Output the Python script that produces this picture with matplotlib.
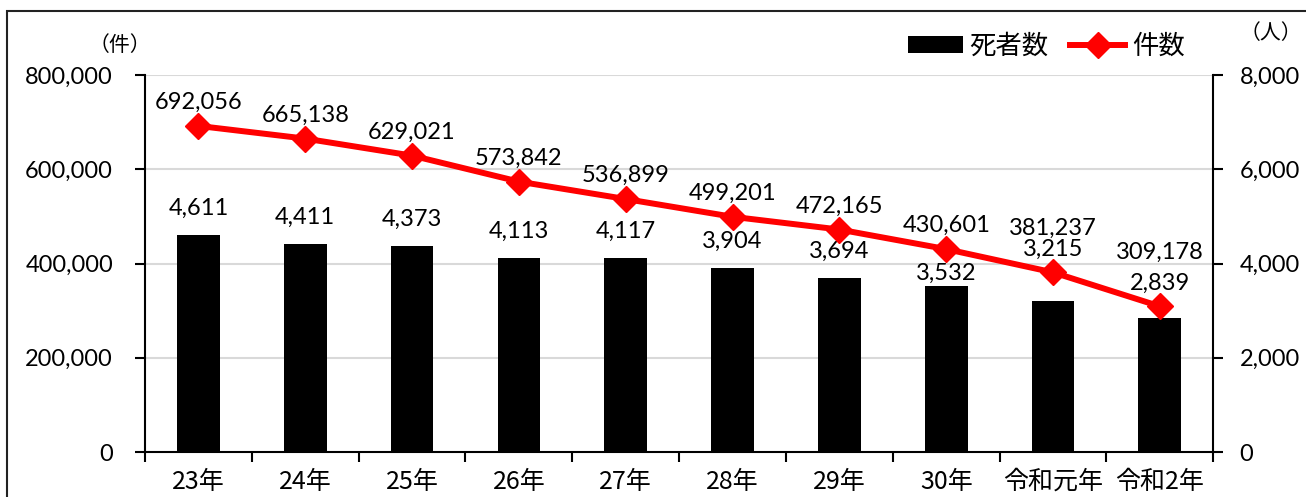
import matplotlib
matplotlib.use("Agg")
import matplotlib.pyplot as plt
from matplotlib.patches import Rectangle
from matplotlib.ticker import FuncFormatter

plt.rcParams['font.family'] = ['Lato', 'Noto Sans CJK JP', 'DejaVu Sans']

years = ['23年', '24年', '25年', '26年', '27年', '28年', '29年', '30年', '令和元年', '令和2年']
deaths = [4611, 4411, 4373, 4113, 4117, 3904, 3694, 3532, 3215, 2839]
cases = [692056, 665138, 629021, 573842, 536899, 499201, 472165, 430601, 381237, 309178]

fig = plt.figure(figsize=(13.06, 4.97), dpi=100)
ax = fig.add_axes([0.111, 0.0905, 0.818, 0.7585])
ax2 = ax.twinx()

x = list(range(len(years)))

# bars on right axis (people), line on left axis (cases)
ax2.bar(x, deaths, width=0.4, color='black', zorder=2, label='死者数')
ax.plot(x, cases, color='#ff0000', lw=4.3, marker='D', ms=13, zorder=5, label='件数')

ax.set_zorder(ax2.get_zorder() + 1)
ax.patch.set_visible(False)

ax.set_ylim(0, 800000)
ax2.set_ylim(0, 8000)
ax.set_xlim(-0.5, len(years) - 0.5)
ax.set_yticks([0, 200000, 400000, 600000, 800000])
ax2.set_yticks([0, 2000, 4000, 6000, 8000])
fmt = FuncFormatter(lambda v, p: f'{int(v):,}')
ax.yaxis.set_major_formatter(fmt)
ax2.yaxis.set_major_formatter(fmt)

for g in [2000, 4000, 6000, 8000]:
    ax2.axhline(g, color='#d9d9d9', lw=1.5, zorder=0)

ax.set_xticks(x)
ax.set_xticklabels(years, fontsize=18, family='Noto Sans CJK JP')
ax.set_xticks([i - 0.5 for i in range(len(years) + 1)], minor=True)
ax.tick_params(axis='x', which='major', length=0, pad=12)
ax.tick_params(axis='x', which='minor', length=7, width=1.5, direction='out')
ax.tick_params(axis='y', labelsize=17, length=7, width=1.5, pad=16)
ax2.tick_params(axis='y', labelsize=17, length=7, width=1.5, pad=12)

for s in ['top', 'right']:
    ax.spines[s].set_visible(False)
    ax2.spines[s].set_visible(False)
ax2.spines['left'].set_visible(False)
ax.spines['bottom'].set_visible(False)
ax2.spines['bottom'].set_linewidth(1.5)
ax2.spines['right'].set_visible(True)
ax2.spines['right'].set_linewidth(1.5)
ax.spines['left'].set_linewidth(1.5)
ax2.spines['bottom'].set_zorder(10)

# value labels, offsets in points (last ones moved like the original)
case_off = {8: 32, 9: 39}
death_off = {7: 9, 8: 37, 9: 25}
for i, v in enumerate(cases):
    ax.annotate(f'{v:,}', (i, v), xytext=(0, case_off.get(i, 17)), textcoords='offset points',
                ha='center', va='center', fontsize=17)
for i, v in enumerate(deaths):
    ax2.annotate(f'{v:,}', (i, v), xytext=(0, death_off.get(i, 19)), textcoords='offset points',
                 ha='center', va='center', fontsize=17)

fig.text(0.092, 0.909, '（件）', fontsize=15, ha='center', va='center',
         family=['Noto Sans CJK JP', 'DejaVu Sans'])
fig.text(0.973, 0.934, '（人）', fontsize=15, ha='center', va='center',
         family=['Noto Sans CJK JP', 'DejaVu Sans'])

h1, l1 = ax2.get_legend_handles_labels()
h2, l2 = ax.get_legend_handles_labels()
fig.legend(h1 + h2, l1 + l2, loc='center', bbox_to_anchor=(0.801, 0.907), ncol=2,
           frameon=False, prop={'family': 'Noto Sans CJK JP', 'size': 19},
           handlelength=2.1, handleheight=0.65, columnspacing=0.8, handletextpad=0.25)

fig.patches.append(Rectangle((7 / 1306, -0.1), 1.2, 1 - 11 / 497 + 0.1,
                             transform=fig.transFigure, fill=False,
                             edgecolor='#222222', lw=1.5))

fig.savefig('out.png', dpi=100)
